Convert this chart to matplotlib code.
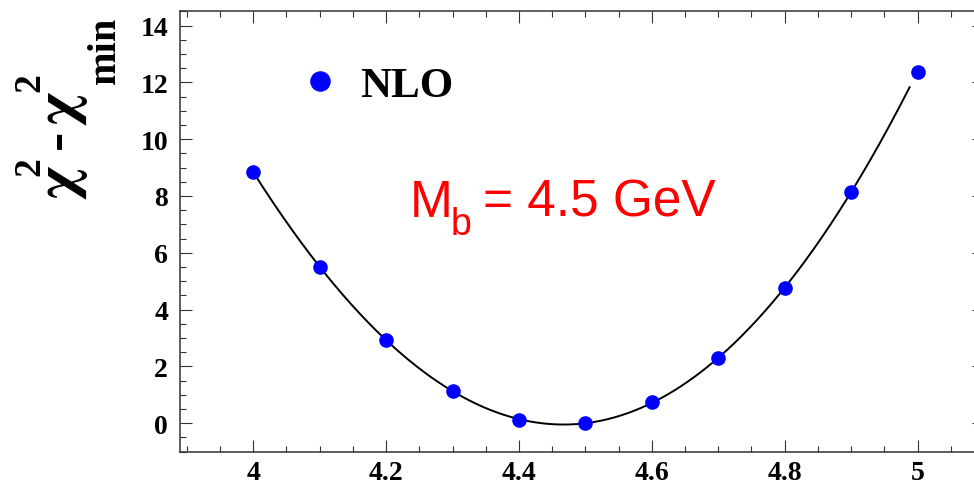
import numpy as np
import matplotlib
matplotlib.use("Agg")
import matplotlib.pyplot as plt
from matplotlib.ticker import MultipleLocator, FixedLocator

# ---- data ----
mb_values = [4.0, 4.1, 4.2, 4.3, 4.4, 4.5, 4.6, 4.7, 4.8, 4.9, 5.0]
dchi2_values = [8.84, 5.50, 2.93, 1.15, 0.12, 0.00, 0.74, 2.30, 4.76, 8.15, 12.38]
series_label = "NLO"
x_ticks = [4.0, 4.2, 4.4, 4.6, 4.8, 5.0]
x_tick_labels = ["4", "4.2", "4.4", "4.6", "4.8", "5"]
y_ticks = [0, 2, 4, 6, 8, 10, 12, 14]
y_tick_labels = ["0", "2", "4", "6", "8", "10", "12", "14"]
fit_range = (4.0, 4.988)

W, H = 974, 485
fig = plt.figure(figsize=(W / 100, H / 100), dpi=100)

def fx(px):
    return px / W

def fy(py):
    return 1 - py / H

ax = fig.add_axes([fx(180), fy(452.7), fx(984) - fx(180), fy(12.3) - fy(452.7)])

# fit curve (polynomial fit computed from the data)
coef = np.polyfit(mb_values, dchi2_values, 4)
xs = np.linspace(fit_range[0], fit_range[1], 400)
ax.plot(xs, np.polyval(coef, xs), color="black", lw=1.4, zorder=2)

ax.plot(mb_values, dchi2_values, linestyle="none", marker="o", ms=9.5,
        color="#0000ff", mec="#0000ff", label=series_label, zorder=3)

ax.set_xlim(3.8897, 5.1)
ax.set_ylim(-1, 14.5)

ax.xaxis.set_major_locator(FixedLocator(x_ticks))
ax.set_xticklabels(x_tick_labels)
ax.xaxis.set_minor_locator(MultipleLocator(0.05))
ax.yaxis.set_major_locator(FixedLocator(y_ticks))
ax.set_yticklabels(y_tick_labels)
ax.yaxis.set_minor_locator(MultipleLocator(0.5))

ax.tick_params(which="both", direction="in", top=True, right=True,
               color="#333333", width=0.8)
ax.tick_params(which="major", length=8.6)
ax.tick_params(which="minor", length=4.3)
ax.tick_params(axis="x", which="major", pad=6)
ax.tick_params(axis="y", which="major", pad=8.5)
for lab in ax.get_xticklabels() + ax.get_yticklabels():
    lab.set_fontfamily("Liberation Serif")
    lab.set_fontweight("bold")
    lab.set_fontsize(20)
for sp in ax.spines.values():
    sp.set_color("#333333")
    sp.set_linewidth(1.1)

# legend
leg = ax.legend(loc="center left", bbox_to_anchor=(fx(298.5), fy(86)),
                bbox_transform=fig.transFigure, frameon=False,
                prop=dict(family="Liberation Serif", weight="bold", size=31),
                markerscale=1.45, handlelength=1.0, handletextpad=0.43,
                borderpad=0, borderaxespad=0, numpoints=1)

# red annotation
red = "#ff0000"
fig.text(fx(410), fy(216.7), "M", color=red, family="Liberation Sans",
         fontsize=37, ha="left", va="baseline")
fig.text(fx(451), fy(235), "b", color=red, family="Liberation Sans",
         fontsize=27, ha="left", va="baseline")
fig.text(fx(483), fy(216.7), "= 4.5 GeV", color=red, family="Liberation Sans",
         fontsize=37, ha="left", va="baseline")

# y axis title, built from rotated pieces
def ytext(px, py, s, size, family="Liberation Serif"):
    fig.text(fx(px), fy(py), s, rotation=90, rotation_mode="anchor",
             ha="left", va="baseline", fontsize=size, color="black",
             family=family, weight="bold")

ytext(75, 199, "\u03c7", 42, "STIXGeneral")
ytext(39, 176, "2", 27)
ytext(72, 149, "-", 42)
ytext(75, 125, "\u03c7", 42, "STIXGeneral")
ytext(39, 92, "2", 27)
ytext(115, 84, "min", 29)

fig.savefig("out.png", dpi=100)
